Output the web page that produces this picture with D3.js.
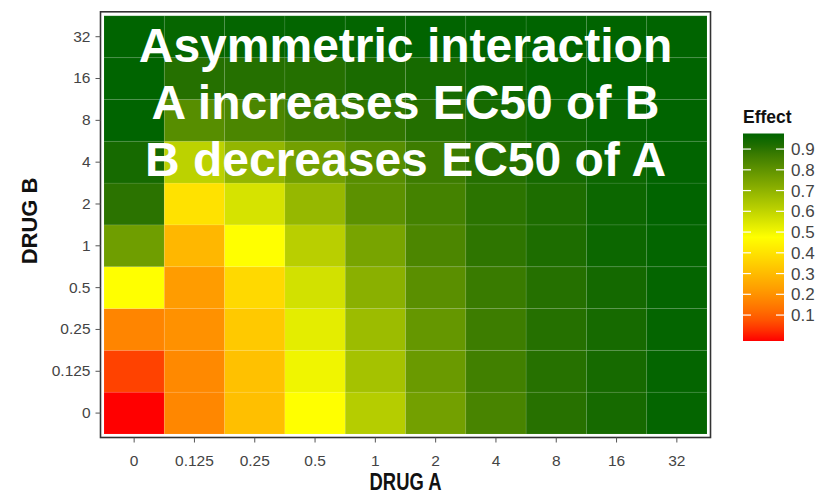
<!DOCTYPE html>
<html><head><meta charset="utf-8">
<script src="https://cdn.jsdelivr.net/npm/d3@7"></script>
<style>body{margin:0;background:#fff;} svg{display:block;font-family:"Liberation Sans",Arial,sans-serif;}</style>
</head><body><svg id="c" width="823" height="494"></svg>
<script>
const drugA = ["0","0.125","0.25","0.5","1","2","4","8","16","32"];
const drugB = ["0","0.125","0.25","0.5","1","2","4","8","16","32"];
// effect[rowB][colA]
const effB0    = [0.000,0.176,0.309,0.475,0.624,0.760,0.848,0.907,0.931,0.947];
const effB0125 = [0.048,0.181,0.314,0.504,0.656,0.779,0.861,0.909,0.931,0.947];
const effB025  = [0.171,0.197,0.335,0.529,0.674,0.789,0.869,0.910,0.931,0.947];
const effB05   = [0.475,0.223,0.375,0.564,0.712,0.812,0.876,0.910,0.933,0.947];
const effB1    = [0.767,0.289,0.475,0.616,0.749,0.840,0.896,0.922,0.941,0.948];
const effB2    = [0.901,0.399,0.556,0.686,0.808,0.855,0.900,0.922,0.941,0.949];
const effB4    = [0.931,0.608,0.694,0.760,0.817,0.869,0.910,0.931,0.941,0.949];
const effB8    = [0.950,0.817,0.841,0.869,0.893,0.914,0.931,0.941,0.947,0.950];
const effB16   = [0.950,0.910,0.910,0.912,0.926,0.931,0.941,0.947,0.950,0.950];
const effB32   = [0.950,0.945,0.947,0.948,0.948,0.949,0.949,0.950,0.950,0.950];
const effectRows = [effB0,effB0125,effB025,effB05,effB1,effB2,effB4,effB8,effB16,effB32];
const legendTicks = [0.1,0.2,0.3,0.4,0.5,0.6,0.7,0.8,0.9];
const titleLines = ["Asymmetric interaction","A increases EC50 of B","B decreases EC50 of A"];

const cells = [];
effectRows.forEach((row,i)=>row.forEach((v,j)=>cells.push({a:drugA[j],b:drugB[i],v})));

const svg = d3.select("#c");
const P = {l:104, r:707, t:15.8, b:434};
const x = d3.scaleBand().domain(drugA).range([P.l,P.r]);
const y = d3.scaleBand().domain(drugB).range([P.b,P.t]);
const ext = d3.extent(cells,d=>d.v);
const color = d3.scaleLinear().domain([ext[0],(ext[0]+ext[1])/2,ext[1]])
  .range(["#ff0000","#ffff00","#006400"]).interpolate(d3.interpolateLab);

svg.append("g").selectAll("rect").data(cells).join("rect")
  .attr("x",d=>x(d.a)).attr("y",d=>y(d.b))
  .attr("width",x.bandwidth()).attr("height",y.bandwidth())
  .attr("fill",d=>color(d.v))
  .attr("stroke","#ffffff").attr("stroke-opacity",0.07).attr("stroke-width",1);

// panel border
svg.append("rect").attr("x",P.l-2.5).attr("y",P.t-3).attr("width",P.r-P.l+5).attr("height",P.b-P.t+5.5)
  .attr("fill","none").attr("stroke","#ffffff").attr("stroke-width",2);
svg.append("rect").attr("x",P.l-3.5).attr("y",P.t-4).attr("width",P.r-P.l+7).attr("height",P.b-P.t+7.5)
  .attr("fill","none").attr("stroke","#333333").attr("stroke-width",1.6);

// axes
const xAx = svg.append("g").attr("transform",`translate(0,${P.b+3.5})`)
  .call(d3.axisBottom(x).tickSize(5).tickPadding(12));
const yAx = svg.append("g").attr("transform",`translate(${P.l-3.5},0)`)
  .call(d3.axisLeft(y).tickSize(5).tickPadding(5));
[xAx,yAx].forEach(g=>{
  g.select(".domain").remove();
  g.selectAll(".tick line").attr("stroke","#555").attr("stroke-width",1);
  g.selectAll(".tick text").attr("fill","#444").style("font-size","15.5px");
});

svg.append("text").attr("transform",`translate(${(P.l+P.r)/2},490) scale(0.8,1)`).attr("text-anchor","middle")
  .style("font-size","23px").style("font-weight","bold").attr("fill","#111").text("DRUG A");
svg.append("text").attr("transform",`translate(37,${(P.t+P.b)/2-4}) rotate(-90)`).attr("text-anchor","middle")
  .style("font-size","22px").style("font-weight","bold").attr("fill","#111").text("DRUG B");

// title overlay
svg.append("g").selectAll("text").data(titleLines).join("text")
  .attr("x",(P.l+P.r)/2).attr("y",(d,i)=>62+i*57).attr("text-anchor","middle")
  .attr("fill","#ffffff").style("font-size","48px").style("font-weight","bold").text(d=>d);

// legend
const L = {x:743, top:133.5, bottom:341, w:41};
svg.append("text").attr("x",L.x).attr("y",123).style("font-size","17.5px").style("font-weight","bold")
  .attr("fill","#111").text("Effect");
const inset = (L.bottom-L.top)/40;
const ly = d3.scaleLinear().domain(ext).range([L.bottom-inset,L.top+inset]);
const grad = svg.append("defs").append("linearGradient").attr("id","lg")
  .attr("x1",0).attr("y1",1).attr("x2",0).attr("y2",0);
const stops = d3.range(0,1.0001,0.05);
grad.selectAll("stop").data(stops).join("stop")
  .attr("offset",d=>d).attr("stop-color",d=>{
    const yy = L.bottom - d*(L.bottom-L.top);
    return color(Math.max(ext[0],Math.min(ext[1],ly.invert(yy))));
  });
svg.append("rect").attr("x",L.x).attr("y",L.top).attr("width",L.w).attr("height",L.bottom-L.top).attr("fill","url(#lg)");
const lt = svg.append("g");
legendTicks.forEach(t=>{
  const yy = ly(t);
  lt.append("line").attr("x1",L.x).attr("x2",L.x+8).attr("y1",yy).attr("y2",yy).attr("stroke","#fff").attr("stroke-width",1.2);
  lt.append("line").attr("x1",L.x+L.w-8).attr("x2",L.x+L.w).attr("y1",yy).attr("y2",yy).attr("stroke","#fff").attr("stroke-width",1.2);
  lt.append("text").attr("x",L.x+L.w+7).attr("y",yy+6).style("font-size","17px").attr("fill","#444").text(d3.format(".1f")(t));
});
</script></body></html>
